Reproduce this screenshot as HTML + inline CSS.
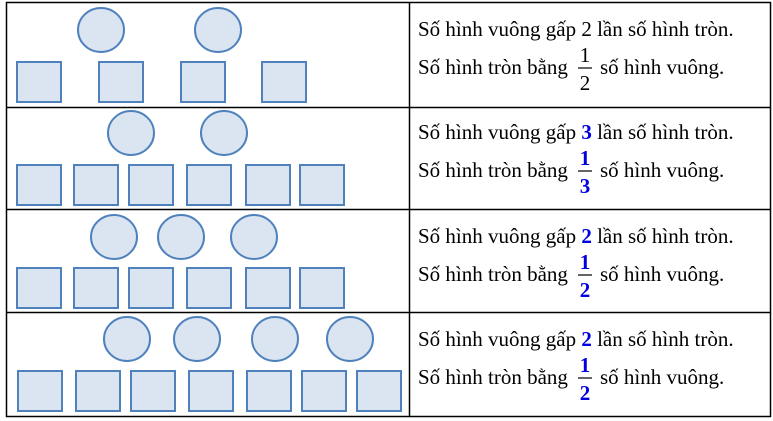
<!DOCTYPE html>
<html><head><meta charset="utf-8"><style>
html,body{margin:0;padding:0;background:#fff;}
svg{display:block;}
text{font-family:"Liberation Serif",serif;font-size:21px;fill:#000;}
.b{fill:#0000e0;font-weight:bold;}
</style></head><body>
<svg width="773" height="421" viewBox="0 0 773 421" xmlns="http://www.w3.org/2000/svg">
<g fill="none" stroke="#000" stroke-width="1.5">
<rect x="6.5" y="2.5" width="764" height="414"/>
<line x1="409.5" y1="2" x2="409.5" y2="417"/>
<line x1="6" y1="107.5" x2="771" y2="107.5"/>
<line x1="6" y1="209.5" x2="771" y2="209.5"/>
<line x1="6" y1="312.5" x2="771" y2="312.5"/>
</g>
<g fill="#dbe5f1" stroke="#4f81bd" stroke-width="2">
<ellipse cx="101" cy="30" rx="23" ry="22"/><ellipse cx="218" cy="30" rx="23" ry="22"/>
<rect x="17" y="62" width="44" height="40"/><rect x="99" y="62" width="44" height="40"/><rect x="181" y="62" width="44" height="40"/><rect x="262" y="62" width="44" height="40"/>
<ellipse cx="131" cy="133" rx="23" ry="22"/><ellipse cx="224" cy="133" rx="23" ry="22"/>
<rect x="17" y="165" width="44" height="40"/><rect x="74" y="165" width="44" height="40"/><rect x="129" y="165" width="44" height="40"/><rect x="187" y="165" width="44" height="40"/><rect x="246" y="165" width="44" height="40"/><rect x="300" y="165" width="44" height="40"/>
<ellipse cx="114" cy="237" rx="23" ry="22"/><ellipse cx="181" cy="237" rx="23" ry="22"/><ellipse cx="254" cy="237" rx="23" ry="22"/>
<rect x="17" y="268" width="44" height="40"/><rect x="74" y="268" width="44" height="40"/><rect x="129" y="268" width="44" height="40"/><rect x="187" y="268" width="44" height="40"/><rect x="246" y="268" width="44" height="40"/><rect x="300" y="268" width="44" height="40"/>
<ellipse cx="127" cy="339" rx="23" ry="22"/><ellipse cx="197" cy="339" rx="23" ry="22"/><ellipse cx="275" cy="339" rx="23" ry="22"/><ellipse cx="350" cy="339" rx="23" ry="22"/>
<rect x="18" y="371" width="44" height="40"/><rect x="76" y="371" width="44" height="40"/><rect x="131" y="371" width="44" height="40"/><rect x="189" y="371" width="44" height="40"/><rect x="247" y="371" width="44" height="40"/><rect x="302" y="371" width="44" height="40"/><rect x="357" y="371" width="44" height="40"/>
</g>
<g>
<text x="418" y="36">Số hình vuông gấp 2 lần số hình tròn.</text>
<text x="418" y="74">Số hình tròn bằng</text><text x="600" y="74">số hình vuông.</text>
<text x="585" y="62" text-anchor="middle">1</text><line x1="578" y1="68" x2="592" y2="68" stroke="#000" stroke-width="1.2"/><text x="585" y="90" text-anchor="middle">2</text>

<text x="418" y="139">Số hình vuông gấp <tspan class="b">3</tspan> lần số hình tròn.</text>
<text x="418" y="177">Số hình tròn bằng</text><text x="600" y="177">số hình vuông.</text>
<text x="585" y="165" text-anchor="middle" class="b">1</text><line x1="578" y1="171" x2="592" y2="171" stroke="#000" stroke-width="1.2"/><text x="585" y="193" text-anchor="middle" class="b">3</text>

<text x="418" y="243">Số hình vuông gấp <tspan class="b">2</tspan> lần số hình tròn.</text>
<text x="418" y="281">Số hình tròn bằng</text><text x="600" y="281">số hình vuông.</text>
<text x="585" y="269" text-anchor="middle" class="b">1</text><line x1="578" y1="275" x2="592" y2="275" stroke="#000" stroke-width="1.2"/><text x="585" y="297" text-anchor="middle" class="b">2</text>

<text x="418" y="346">Số hình vuông gấp <tspan class="b">2</tspan> lần số hình tròn.</text>
<text x="418" y="384">Số hình tròn bằng</text><text x="600" y="384">số hình vuông.</text>
<text x="585" y="372" text-anchor="middle" class="b">1</text><line x1="578" y1="378" x2="592" y2="378" stroke="#000" stroke-width="1.2"/><text x="585" y="400" text-anchor="middle" class="b">2</text>
</g>
</svg>
</body></html>
